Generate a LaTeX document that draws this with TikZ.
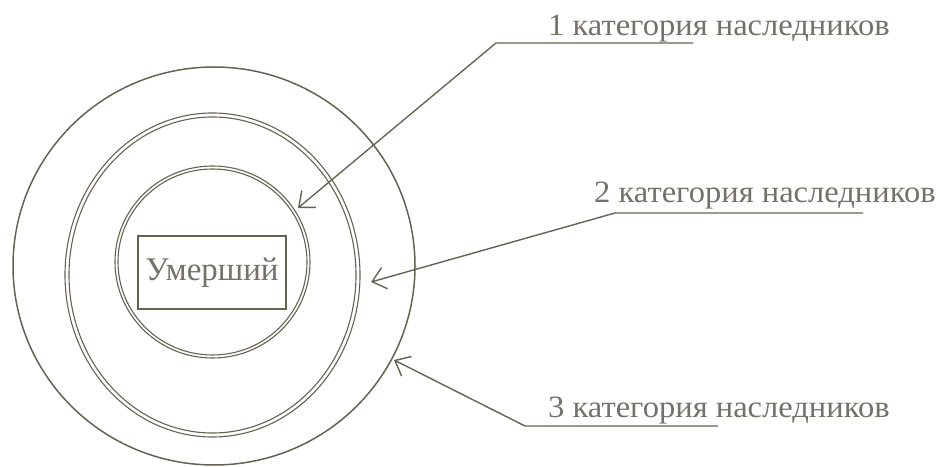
\documentclass[tikz,border=0pt]{standalone}
\usepackage{fontspec}
\setmainfont{Liberation Serif}
\newfontfamily\widefont[FakeStretch=1.05]{Liberation Serif}
\usepackage{xcolor}
\usetikzlibrary{arrows.meta}

\definecolor{inkline}{RGB}{102,98,82}
\definecolor{inktext}{RGB}{116,114,104}

\tikzset{
  ring/.style={draw=inkline, line width=1.5pt},
  thinring/.style={draw=inkline, line width=1.1pt},
  leader/.style={draw=inkline, line width=1.4pt, -{Straight Barb[length=13pt,width=22pt,line width=1.4pt]}},
  catlabel/.style={anchor=base west, inner sep=0pt, text=inktext, font=\widefont\fontsize{31}{34}\selectfont},
}

\begin{document}
\begin{tikzpicture}[x=1pt,y=1pt]
\useasboundingbox (0,0) rectangle (940,466);

% rings
\draw[ring] (214,200) ellipse (201 and 199);
\draw[thinring] (212.5,191) ellipse (147.5 and 162);
\draw[thinring] (212.5,191) ellipse (143.5 and 158);
\draw[thinring] (212.5,204) ellipse (97.5 and 96);
\draw[thinring] (212.5,204) ellipse (94.5 and 93);

% center box
\node[draw=inkline, line width=1.4pt, minimum width=148pt, minimum height=73pt, inner sep=0pt,
      text=inktext, font=\fontsize{33}{36}\selectfont] (dead) at (212,193.5) {Умерший};

% labels
\node[catlabel] (cat1) at (548,430) {1 категория наследников};
\node[catlabel] (cat2) at (594,263) {2 категория наследников};
\node[catlabel] (cat3) at (548,48) {3 категория наследников};

% underline ends and arrow tips
\coordinate (u1a) at (496,423);
\coordinate (u1b) at (693,423);
\coordinate (u2a) at (615,253);
\coordinate (u2b) at (863,253);
\coordinate (u3a) at (525,40);
\coordinate (u3b) at (718,40);
\coordinate (tip1) at (298,258);
\coordinate (tip2) at (371,184);
\coordinate (tip3) at (394,106);

\draw[leader] (u1b) -- (u1a) -- (tip1);
\draw[leader] (u2b) -- (u2a) -- (tip2);
\draw[leader] (u3b) -- (u3a) -- (tip3);
\end{tikzpicture}
\end{document}
